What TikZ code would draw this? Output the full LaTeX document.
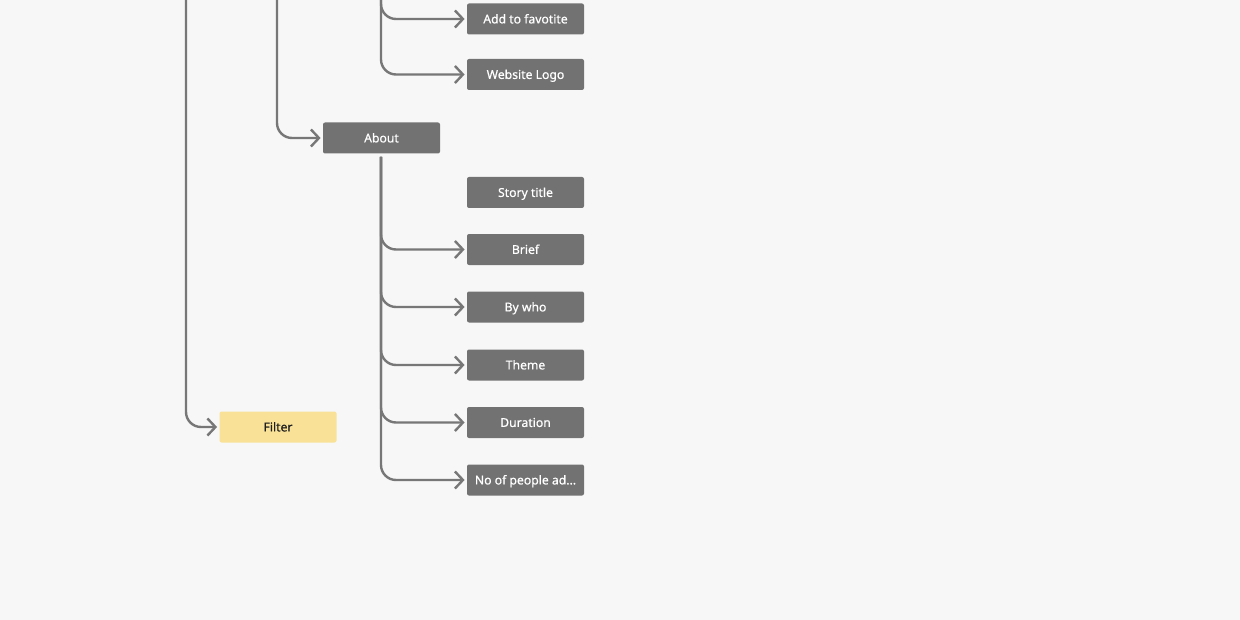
\documentclass[tikz,border=0pt]{standalone}
\usepackage{fontspec}
\setmainfont{Noto Sans}
\newfontfamily\boxfont[FakeBold=0.6]{Noto Sans}
\usetikzlibrary{arrows.meta}
\definecolor{bg}{HTML}{F7F7F7}
\definecolor{boxgray}{HTML}{727272}
\definecolor{linegray}{HTML}{777777}
\definecolor{filteryellow}{HTML}{F9E298}
\definecolor{darktext}{HTML}{1E1E1E}
\tikzset{
  box/.style={rectangle, rounded corners=1pt, fill=boxgray, text=white,
    minimum width=58.5pt, minimum height=15.5pt, inner sep=0pt,
    text height=4.4pt, text depth=0pt,
    font=\boxfont\fontsize{6.1pt}{7pt}\selectfont},
  yellowbox/.style={box, fill=filteryellow, text=darktext},
  conn/.style={draw=linegray, line width=1.2pt, rounded corners=7.5pt,
    -{Straight Barb[length=4pt,width=8.5pt,line width=1.2pt]}, shorten >=1pt},
}
\begin{document}
\begin{tikzpicture}[x=0.5pt,y=-0.5pt]
\fill[bg] (0,0) rectangle (1240,620);
\useasboundingbox (0,0) rectangle (1240,620);
\node[box] (fav) at (525.5,19) {Add to favotite};
\node[box] (logo) at (525.5,74.5) {Website Logo};
\node[box] (about) at (381.5,138) {About};
\node[box] (story) at (525.5,192.5) {Story title};
\node[box] (brief) at (525.5,249.5) {Brief};
\node[box] (bywho) at (525.5,307) {By who};
\node[box] (theme) at (525.5,365) {Theme};
\node[box] (duration) at (525.5,422.5) {Duration};
\node[box] (people) at (525.5,480) {No of people ad...};
\node[yellowbox] (filter) at (278,427) {Filter};
\coordinate (top1) at (186,-10);
\coordinate (top2) at (277,-10);
\coordinate (top3) at (381,-10);
\coordinate (aboutout) at (381,157);
\draw[conn] (top1) |- (filter.west);
\draw[conn] (top2) |- (about.west);
\draw[conn] (top3) |- (fav.west);
\draw[conn] (top3) |- (logo.west);
\draw[conn] (aboutout) |- (brief.west);
\draw[conn] (aboutout) |- (bywho.west);
\draw[conn] (aboutout) |- (theme.west);
\draw[conn] (aboutout) |- (duration.west);
\draw[conn] (aboutout) |- (people.west);
\end{tikzpicture}
\end{document}
